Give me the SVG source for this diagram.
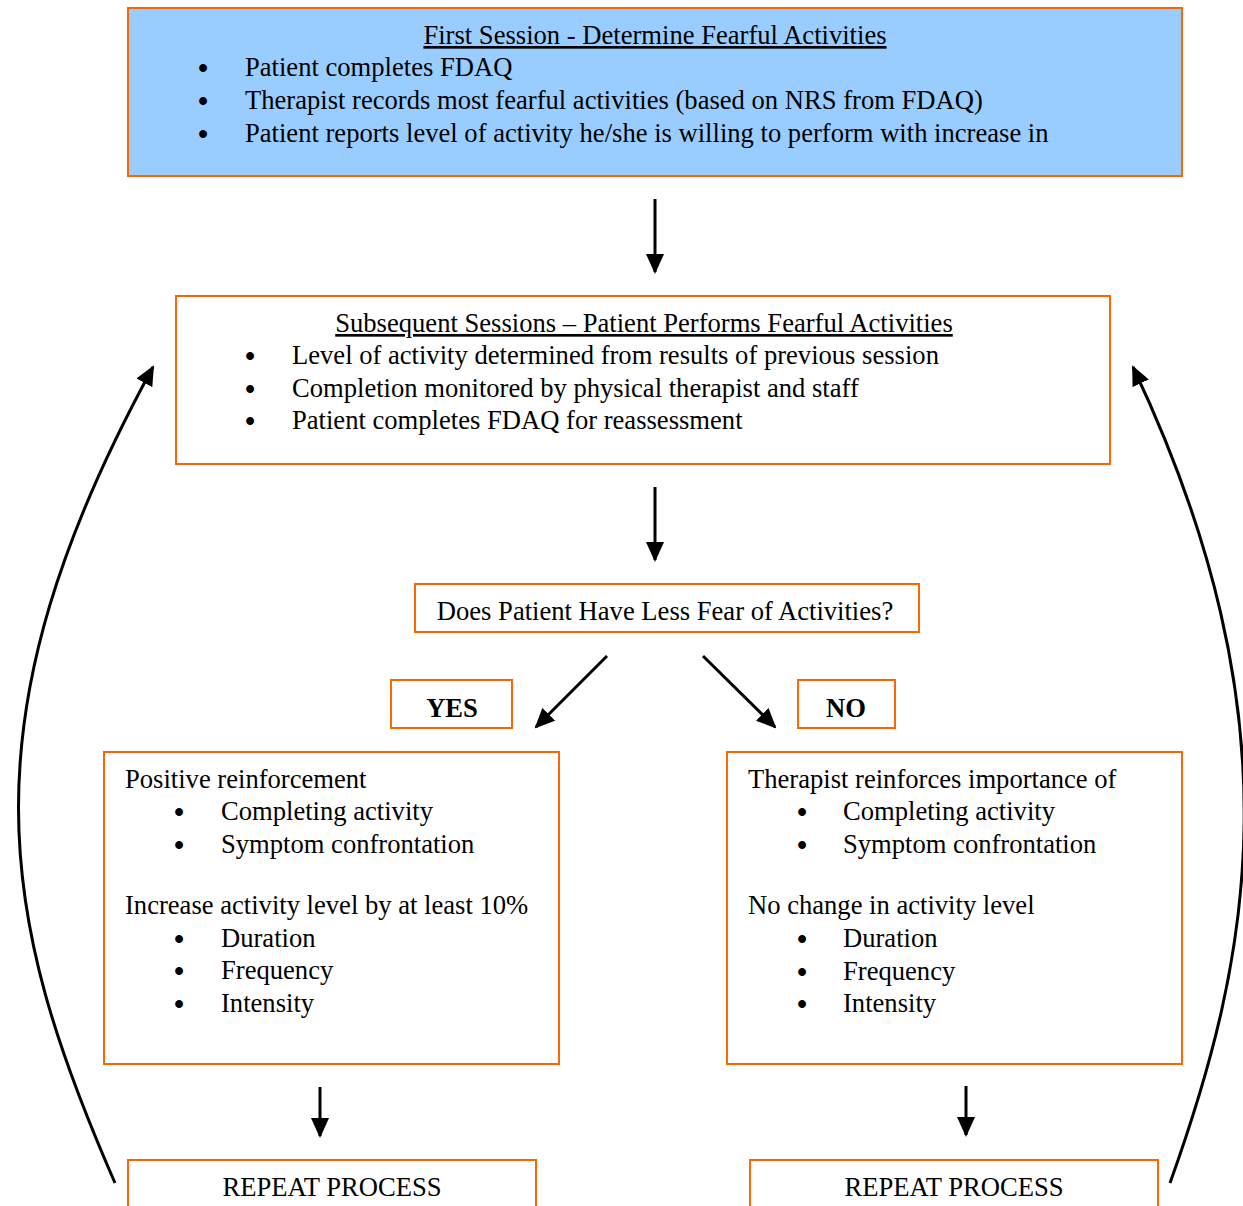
<svg xmlns="http://www.w3.org/2000/svg" width="1243" height="1206" viewBox="0 0 1243 1206">
<style>
.box{fill:#fff;stroke:#FF6600;stroke-width:2}
.blue{fill:#99CCFF}
text{font-family:"Liberation Serif","Times New Roman",serif;font-size:26.6px;fill:#000}
.c{text-anchor:middle}
.u{text-decoration:underline}
.b{font-weight:bold}
.bl{font-size:29px;text-anchor:middle;font-weight:bold}
.ln{fill:none;stroke:#000;stroke-width:3}
</style>
<defs>
<marker id="ah" markerUnits="userSpaceOnUse" markerWidth="20" markerHeight="18" refX="18" refY="9" orient="auto">
<path d="M0,0 L20,9 L0,18 Z" fill="#000"/>
</marker>
</defs>
<g id="connectors">
<line class="ln" x1="655" y1="199" x2="655" y2="272" marker-end="url(#ah)"/>
<line class="ln" x1="655" y1="487" x2="655" y2="560" marker-end="url(#ah)"/>
<line class="ln" x1="607" y1="656" x2="536" y2="727" marker-end="url(#ah)"/>
<line class="ln" x1="703" y1="656" x2="775" y2="727" marker-end="url(#ah)"/>
<line class="ln" x1="320" y1="1087" x2="320" y2="1136" marker-end="url(#ah)"/>
<line class="ln" x1="966" y1="1086" x2="966" y2="1135" marker-end="url(#ah)"/>
<path class="ln" d="M115,1183 C0,920 -40,720 153,367" marker-end="url(#ah)"/>
<path class="ln" d="M1170,1183 C1250,960 1300,720 1133,367" marker-end="url(#ah)"/>
</g>
<g id="first-session">
<rect class="box blue" x="128" y="8" width="1054" height="168"/>
<text class="c u" x="655" y="44">First Session - Determine Fearful Activities</text>
<text class="bl" x="203" y="78">•</text><text x="245" y="76">Patient completes FDAQ</text>
<text class="bl" x="203" y="111">•</text><text x="245" y="109">Therapist records most fearful activities (based on NRS from FDAQ)</text>
<text class="bl" x="203" y="144">•</text><text x="245" y="142">Patient reports level of activity he/she is willing to perform with increase in</text>
</g>
<g id="subsequent-sessions">
<rect class="box" x="176" y="296" width="934" height="168"/>
<text class="c u" x="644" y="332">Subsequent Sessions – Patient Performs Fearful Activities</text>
<text class="bl" x="250" y="366">•</text><text x="292" y="364">Level of activity determined from results of previous session</text>
<text class="bl" x="250" y="399">•</text><text x="292" y="397">Completion monitored by physical therapist and staff</text>
<text class="bl" x="250" y="431">•</text><text x="292" y="429">Patient completes FDAQ for reassessment</text>
</g>
<g id="question">
<rect class="box" x="415" y="584" width="504" height="48"/>
<text class="c" x="665" y="620">Does Patient Have Less Fear of Activities?</text>
</g>
<g id="yes">
<rect class="box" x="391" y="680" width="121" height="48"/>
<text class="c b" x="452" y="717">YES</text>
</g>
<g id="no">
<rect class="box" x="798" y="680" width="97" height="48"/>
<text class="c b" x="846" y="717">NO</text>
</g>
<g id="yes-actions">
<rect class="box" x="104" y="752" width="455" height="312"/>
<text x="125" y="788">Positive reinforcement</text>
<text class="bl" x="179" y="822">•</text><text x="221" y="820">Completing activity</text>
<text class="bl" x="179" y="855">•</text><text x="221" y="853">Symptom confrontation</text>
<text x="125" y="914">Increase activity level by at least 10%</text>
<text class="bl" x="179" y="949">•</text><text x="221" y="947">Duration</text>
<text class="bl" x="179" y="981">•</text><text x="221" y="979">Frequency</text>
<text class="bl" x="179" y="1014">•</text><text x="221" y="1012">Intensity</text>
</g>
<g id="no-actions">
<rect class="box" x="727" y="752" width="455" height="312"/>
<text x="748" y="788">Therapist reinforces importance of</text>
<text class="bl" x="802" y="822">•</text><text x="843" y="820">Completing activity</text>
<text class="bl" x="802" y="855">•</text><text x="843" y="853">Symptom confrontation</text>
<text x="748" y="914">No change in activity level</text>
<text class="bl" x="802" y="949">•</text><text x="843" y="947">Duration</text>
<text class="bl" x="802" y="982">•</text><text x="843" y="980">Frequency</text>
<text class="bl" x="802" y="1014">•</text><text x="843" y="1012">Intensity</text>
</g>
<g id="repeat-yes">
<rect class="box" x="128" y="1160" width="408" height="60"/>
<text class="c" x="332" y="1196">REPEAT PROCESS</text>
</g>
<g id="repeat-no">
<rect class="box" x="750" y="1160" width="408" height="60"/>
<text class="c" x="954" y="1196">REPEAT PROCESS</text>
</g>
</svg>
